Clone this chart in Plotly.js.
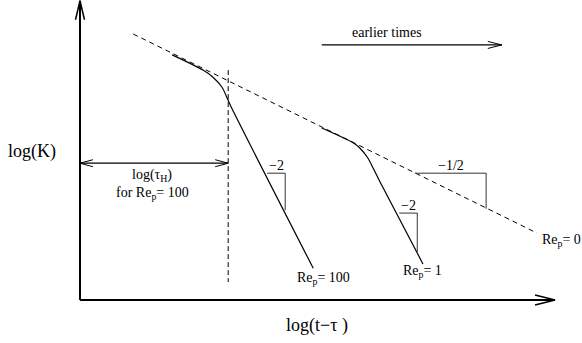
<!DOCTYPE html>
<html>
<head>
<meta charset="utf-8">
<script src="https://cdn.plot.ly/plotly-3.0.1.min.js"></script>
<style>
  html, body { margin: 0; padding: 0; background: #fff; }
  #chart { width: 582px; height: 343px; }
</style>
</head>
<body>
<div id="chart"></div>
<script>
// Schematic: log(K) against log(t - tau), both axes in the same log units.

// Re_p = 0 asymptote (slope -1/2)
const reZeroX = [1.12, 9.62];
const reZeroY = [5.60, 1.41];

// Re_p = 100 curve: follows the asymptote, then turns to slope -2
const re100X = [1.94, 2.59, 2.80, 2.99, 3.09, 3.16, 4.91];
const re100Y = [5.16, 4.84, 4.69, 4.48, 4.27, 4.11, 0.67];

// Re_p = 1 curve
const re1X = [5.09, 5.75, 5.89, 6.06, 6.17, 6.32, 7.22];
const re1Y = [3.62, 3.31, 3.20, 2.99, 2.78, 2.48, 0.76];

// log(tau_H) for Re_p = 100
const tauH = 3.12;
const tauHLineY = [4.84, 0.38];
const tauHArrowY = 2.88;

// Slope triangles: horizontal leg [x0, x1] at yTop, vertical leg down to yBot
const triX0 = [3.94, 6.72, 7.05];
const triX1 = [4.32, 7.10, 8.55];
const triYTop = [2.67, 1.83, 2.67];
const triYBot = [1.89, 1.01, 1.92];
const triLabels = ['\u22122', '\u22122', '\u22121/2'];

// Axis extents and the "earlier times" arrow
const xAxisEnd = 10.0;
const yAxisEnd = 6.30;
const earlierX = [5.09, 8.88];
const earlierY = 5.37;

const curveLabels = ['Re<sub>p</sub>= 100', 'Re<sub>p</sub>= 1', 'Re<sub>p</sub>= 0'];

const xRange = [-1.684, 10.568];
const yRange = [-0.905, 6.316];
const W = 582, H = 343;
const pxPerUnit = W / (xRange[1] - xRange[0]);

const FONT = '"Liberation Serif", "Times New Roman", serif';

const traces = [];

function line(x, y, opts) {
  traces.push(Object.assign({
    type: 'scatter', mode: 'lines', x: x, y: y, hoverinfo: 'skip',
    line: { color: '#000', width: 1.2 }
  }, opts || {}));
}

// Open "V" arrow head at a tip, pointing along (dx, dy); sizes in pixels
function arrowHead(tx, ty, dx, dy, lenPx, halfPx, width) {
  const n = Math.hypot(dx, dy);
  const ux = dx / n, uy = dy / n;
  const L = lenPx / pxPerUnit, Hh = halfPx / pxPerUnit;
  const bx = tx - ux * L, by = ty - uy * L;
  line([bx - uy * Hh, tx, bx + uy * Hh], [by + ux * Hh, ty, by - ux * Hh],
       { line: { color: '#000', width: width } });
}

// Axes with arrow heads
line([0, xAxisEnd], [0, 0], { line: { color: '#000', width: 2 } });
line([0, 0], [0, yAxisEnd], { line: { color: '#000', width: 2 } });
arrowHead(xAxisEnd, 0, 1, 0, 20, 5, 1.5);
arrowHead(0, yAxisEnd, 0, 1, 19, 4.5, 1.5);

// Re_p = 0 asymptote
line(reZeroX, reZeroY, { line: { color: '#000', width: 1, dash: '5px,4px' } });

// Finite Re_p curves
line(re100X, re100Y, { line: { color: '#000', width: 1.2, shape: 'spline', smoothing: 0.8 } });
line(re1X, re1Y, { line: { color: '#000', width: 1.2, shape: 'spline', smoothing: 0.8 } });

// tau_H marker line and double arrow
line([tauH, tauH], tauHLineY, { line: { color: '#000', width: 1, dash: '5px,3px' } });
line([0, tauH], [tauHArrowY, tauHArrowY], { line: { color: '#000', width: 1.2 } });
arrowHead(0, tauHArrowY, -1, 0, 13, 3.5, 1);
arrowHead(tauH, tauHArrowY, 1, 0, 13, 3.5, 1);

// "earlier times" arrow
line(earlierX, [earlierY, earlierY], { line: { color: '#000', width: 1.2 } });
arrowHead(earlierX[1], earlierY, 1, 0, 14, 3.5, 1);

// Slope triangles
const annotations = [];
for (let i = 0; i < triX0.length; i++) {
  line([triX0[i], triX1[i], triX1[i]], [triYTop[i], triYTop[i], triYBot[i]],
       { line: { color: '#333', width: 1 } });
  annotations.push({
    x: (triX0[i] + triX1[i]) / 2, y: triYTop[i] + 8 / pxPerUnit,
    text: triLabels[i], showarrow: false, xanchor: 'center', yanchor: 'middle',
    font: { family: FONT, size: 14, color: '#000' }
  });
}

function label(x, y, text, size, xanchor) {
  annotations.push({
    x: x, y: y, text: text, showarrow: false,
    xanchor: xanchor || 'center', yanchor: 'middle',
    font: { family: FONT, size: size, color: '#000' }
  });
}

label(-1.01, 3.12, 'log(K)', 18);
label(4.99, -0.53, 'log(t\u2212\u03c4 )', 18);
label(6.46, 5.64, 'earlier times', 14);
label(1.52, 2.63, 'log(\u03c4<sub>H</sub>)', 14);
label(1.52, 2.25, 'for ' + curveLabels[0], 14);
label(5.12, 0.46, curveLabels[0], 14);
label(7.22, 0.59, curveLabels[1], 14);
label(9.68, 1.26, curveLabels[2], 14, 'left');

const layout = {
  width: W, height: H,
  margin: { l: 0, r: 0, t: 0, b: 0, pad: 0 },
  paper_bgcolor: '#fff', plot_bgcolor: '#fff',
  showlegend: false,
  xaxis: { range: xRange, visible: false, fixedrange: true },
  yaxis: { range: yRange, visible: false, fixedrange: true },
  annotations: annotations
};

Plotly.newPlot('chart', traces, layout, { displayModeBar: false, staticPlot: true });
</script>
</body>
</html>
